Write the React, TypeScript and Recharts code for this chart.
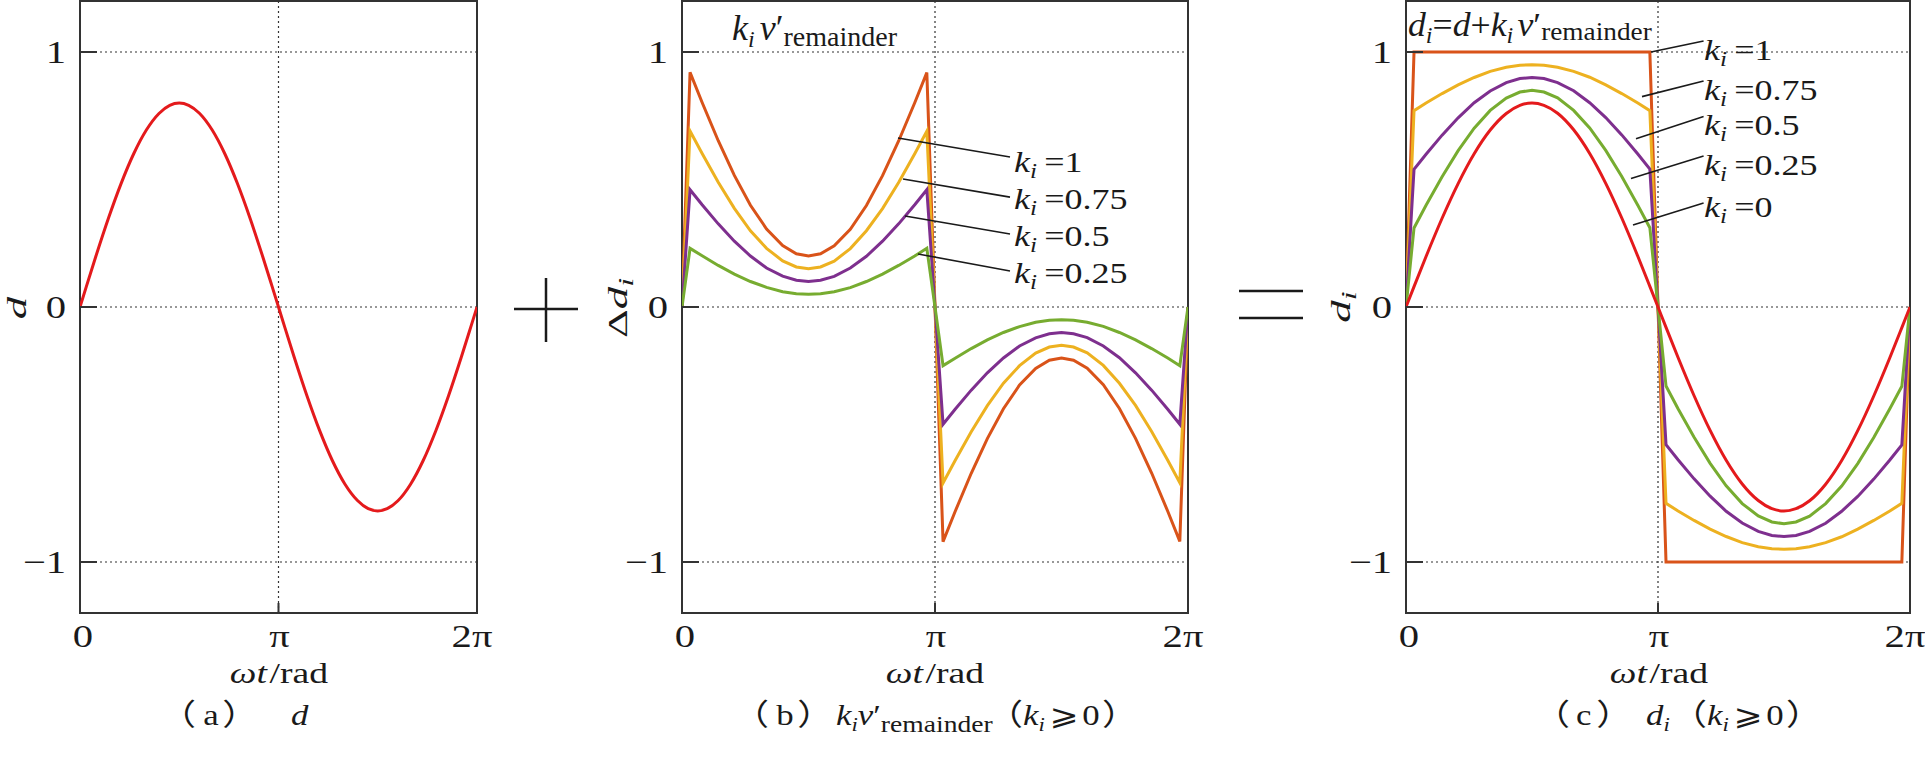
import React from 'react'
import { LineChart, Line, XAxis, YAxis, CartesianGrid, ReferenceLine, ReferenceArea } from 'recharts'

// ωt sample points (rad), finer near 0, π and 2π where the curves jump
const wt = [
  0, 0.1, 0.25, 0.45, 0.65, 0.85, 1.05, 1.25, 1.42, 1.5708, 1.72, 1.89, 2.09, 2.29, 2.49, 2.69, 2.89, 3.04, 3.1416,
  3.2416, 3.3916, 3.5916, 3.7916, 3.9916, 4.1916, 4.3916, 4.5616, 4.7124, 4.8616, 5.0316, 5.2316, 5.4316, 5.6316, 5.8316, 6.0316, 6.1816, 6.2832,
]

// (a) d
const dVals = [
  0, 0.08, 0.198, 0.348, 0.484, 0.601, 0.694, 0.759, 0.791, 0.8, 0.791, 0.76, 0.695, 0.602, 0.485, 0.349, 0.199, 0.081, 0,
  -0.08, -0.198, -0.348, -0.484, -0.601, -0.694, -0.759, -0.791, -0.8, -0.791, -0.76, -0.695, -0.602, -0.485, -0.349, -0.199, -0.081, 0,
]

// (b) Δd_i = k_i v'_remainder
const dk100 = [
  0, 0.92, 0.802, 0.652, 0.516, 0.399, 0.306, 0.241, 0.209, 0.2, 0.209, 0.24, 0.305, 0.398, 0.515, 0.651, 0.801, 0.919, 0,
  -0.92, -0.802, -0.652, -0.516, -0.399, -0.306, -0.241, -0.209, -0.2, -0.209, -0.24, -0.305, -0.398, -0.515, -0.651, -0.801, -0.919, 0,
]
const dk075 = [
  0, 0.69, 0.602, 0.489, 0.387, 0.299, 0.23, 0.181, 0.157, 0.15, 0.157, 0.18, 0.229, 0.299, 0.386, 0.488, 0.601, 0.689, 0,
  -0.69, -0.602, -0.489, -0.387, -0.299, -0.23, -0.181, -0.157, -0.15, -0.157, -0.18, -0.229, -0.299, -0.386, -0.488, -0.601, -0.689, 0,
]
const dk050 = [
  0, 0.46, 0.401, 0.326, 0.258, 0.2, 0.153, 0.121, 0.105, 0.1, 0.105, 0.12, 0.153, 0.199, 0.258, 0.326, 0.401, 0.46, 0,
  -0.46, -0.401, -0.326, -0.258, -0.2, -0.153, -0.121, -0.105, -0.1, -0.105, -0.12, -0.153, -0.199, -0.258, -0.326, -0.401, -0.46, 0,
]
const dk025 = [
  0, 0.23, 0.201, 0.163, 0.129, 0.1, 0.077, 0.06, 0.052, 0.05, 0.052, 0.06, 0.076, 0.1, 0.129, 0.163, 0.2, 0.23, 0,
  -0.23, -0.201, -0.163, -0.129, -0.1, -0.077, -0.06, -0.052, -0.05, -0.052, -0.06, -0.076, -0.1, -0.129, -0.163, -0.2, -0.23, 0,
]

// (c) d_i = d + k_i v'_remainder
const di100 = [
  0, 1, 1, 1, 1, 1, 1, 1, 1, 1, 1, 1, 1, 1, 1, 1, 1, 1, 0,
  -1, -1, -1, -1, -1, -1, -1, -1, -1, -1, -1, -1, -1, -1, -1, -1, -1, 0,
]
const di075 = [
  0, 0.77, 0.8, 0.837, 0.871, 0.9, 0.924, 0.94, 0.948, 0.95, 0.948, 0.94, 0.924, 0.901, 0.871, 0.837, 0.8, 0.77, 0,
  -0.77, -0.8, -0.837, -0.871, -0.9, -0.924, -0.94, -0.948, -0.95, -0.948, -0.94, -0.924, -0.901, -0.871, -0.837, -0.8, -0.77, 0,
]
const di050 = [
  0, 0.54, 0.599, 0.674, 0.742, 0.801, 0.847, 0.88, 0.896, 0.9, 0.896, 0.88, 0.848, 0.801, 0.743, 0.675, 0.6, 0.541, 0,
  -0.54, -0.599, -0.674, -0.742, -0.801, -0.847, -0.88, -0.896, -0.9, -0.896, -0.88, -0.848, -0.801, -0.743, -0.675, -0.6, -0.541, 0,
]
const di025 = [
  0, 0.31, 0.399, 0.511, 0.613, 0.701, 0.771, 0.819, 0.843, 0.85, 0.843, 0.82, 0.771, 0.702, 0.614, 0.512, 0.399, 0.311, 0,
  -0.31, -0.399, -0.511, -0.613, -0.701, -0.771, -0.819, -0.843, -0.85, -0.843, -0.82, -0.771, -0.702, -0.614, -0.512, -0.399, -0.311, 0,
]

const TWO_PI = 6.2832
const xTicks = [0, 3.1416, 6.2832]
const xTickLabels = ['0', 'π', '2π']
const yTicks = [-1, 0, 1]
const yTickLabels = ['−1', '0', '1']

// leader lines [x1, y1, x2, y2] in data units
const leadersB = [
  [2.682, 0.663, 4.073, 0.588],
  [2.744, 0.502, 4.073, 0.431],
  [2.769, 0.357, 4.073, 0.286],
  [2.93, 0.208, 4.073, 0.141],
]
const leadersC = [
  [3.054, 1.0, 3.71, 1.043],
  [2.942, 0.825, 3.71, 0.886],
  [2.867, 0.66, 3.71, 0.747],
  [2.805, 0.504, 3.71, 0.592],
  [2.83, 0.322, 3.71, 0.408],
]
const labelsB = ['1', '0.75', '0.5', '0.25']
const labelsC = ['1', '0.75', '0.5', '0.25', '0']

const RED = '#e41a1c'
const ORANGE = '#d95319'
const YELLOW = '#edb120'
const PURPLE = '#7e2f8e'
const GREEN = '#77ac30'
const INK = '#1a1a1a'
const SERIF = '"Liberation Serif", "Times New Roman", serif'
const CJK = '"Noto Sans CJK SC", "Liberation Serif", serif'
const MATH = '"DejaVu Sans", "Noto Sans CJK SC", sans-serif'
const SX = 1.27

const rowsA = wt.map((x, i) => ({ x, d: dVals[i] }))
const rowsB = wt.map((x, i) => ({ x, k100: dk100[i], k075: dk075[i], k050: dk050[i], k025: dk025[i] }))
const rowsC = wt.map((x, i) => ({ x, k100: di100[i], k075: di075[i], k050: di050[i], k025: di025[i], k000: dVals[i] }))

const Y_MARGIN = 14
const X_MARGIN = 34

function YTick(props: any) {
  const { x, y, index } = props
  const ax = x + Y_MARGIN
  return (
    <g>
      <line x1={ax} x2={ax + 17} y1={y} y2={y} stroke="#333" strokeWidth={2} />
      <text transform={`translate(${x},${y + 11}) scale(${SX},1)`} textAnchor="end" fontFamily={SERIF} fontSize={32} fill={INK}>
        {yTickLabels[index]}
      </text>
    </g>
  )
}

function XTick(props: any) {
  const { x, y, index } = props
  const ay = y - X_MARGIN
  const shift = index === 0 ? 3 : index === 2 ? -5 : 1
  return (
    <g>
      <line x1={x} x2={x} y1={ay} y2={ay - 10} stroke="#333" strokeWidth={2} />
      <text transform={`translate(${x + shift},${y}) scale(${SX},1)`} textAnchor="middle" fontFamily={SERIF} fontSize={32} fill={INK}>
        {xTickLabels[index]}
      </text>
    </g>
  )
}

type Series = { key: string; color: string; curve?: 'linear' | 'monotone' }

function Panel(props: { left: number; width: number; margin: any; data: any[]; series: Series[]; leaders: number[][] }) {
  const { left, width, margin, data, series, leaders } = props
  return (
    <div style={{ position: 'absolute', left, top: 0 }}>
      <LineChart width={width} height={757} data={data} margin={margin}>
        <CartesianGrid stroke="#333" strokeDasharray="2 3" strokeWidth={1.2} />
        <XAxis
          type="number"
          dataKey="x"
          domain={[0, TWO_PI]}
          ticks={xTicks}
          interval={0}
          tickSize={0}
          tickLine={false}
          axisLine={false}
          tickMargin={X_MARGIN}
          tick={(p: any) => <XTick {...p} />}
          allowDataOverflow
        />
        <YAxis
          type="number"
          domain={[-1.2, 1.2]}
          ticks={yTicks}
          interval={0}
          tickSize={0}
          tickLine={false}
          axisLine={false}
          tickMargin={Y_MARGIN}
          tick={(p: any) => <YTick {...p} />}
          allowDataOverflow
        />
        <ReferenceArea x1={0} x2={TWO_PI} y1={-1.2} y2={1.2} fill="none" fillOpacity={0} stroke="#333" strokeWidth={2} ifOverflow="visible" />
        {series.map((s) => (
          <Line
            key={s.key}
            type={s.curve ?? 'linear'}
            dataKey={s.key}
            stroke={s.color}
            strokeWidth={3}
            dot={false}
            activeDot={false}
            isAnimationActive={false}
          />
        ))}
        {leaders.map((l, i) => (
          <ReferenceLine
            key={i}
            segment={[{ x: l[0], y: l[1] }, { x: l[2], y: l[3] }]}
            stroke={INK}
            strokeWidth={1.6}
            ifOverflow="visible"
          />
        ))}
      </LineChart>
    </div>
  )
}

function KLabel({ x, y, value }: { x: number; y: number; value: string }) {
  return (
    <text transform={`translate(${x},${y}) scale(1.2,1)`} fontFamily={SERIF} fontSize={30} fill={INK}>
      <tspan fontStyle="italic">k</tspan>
      <tspan fontStyle="italic" fontSize={21} dy={6}>i</tspan>
      <tspan dy={-6} dx={6}>{'=' + value}</tspan>
    </text>
  )
}

function AxisTitle({ cx }: { cx: number }) {
  return (
    <text transform={`translate(${cx},683) scale(1.3,1)`} textAnchor="middle" fontFamily={SERIF} fontSize={29} fill={INK}>
      <tspan fontStyle="italic">ωt</tspan>
      <tspan dx={2}>/rad</tspan>
    </text>
  )
}

function YTitle({ cx, cy, children }: { cx: number; cy: number; children: any }) {
  return (
    <text transform={`translate(${cx + 10},${cy}) rotate(-90) scale(1.6,1)`} textAnchor="middle" fontFamily={SERIF} fontSize={28} fill={INK}>
      {children}
    </text>
  )
}

const CS = 1.2 // caption horizontal stretch
const cx = (v: number) => v / CS
const CAP_Y = 725

export default function App() {
  return (
    <div style={{ position: 'absolute', left: 0, top: 0, width: 1925, height: 757, background: '#fff' }}>
      <Panel
        left={0}
        width={560}
        margin={{ top: 1, right: 83, left: 20, bottom: 114 }}
        data={rowsA}
        series={[{ key: 'd', color: RED, curve: 'monotone' }]}
        leaders={[]}
      />
      <Panel
        left={580}
        width={640}
        margin={{ top: 1, right: 32, left: 42, bottom: 114 }}
        data={rowsB}
        series={[
          { key: 'k100', color: ORANGE },
          { key: 'k075', color: YELLOW },
          { key: 'k050', color: PURPLE },
          { key: 'k025', color: GREEN },
        ]}
        leaders={leadersB}
      />
      <Panel
        left={1310}
        width={615}
        margin={{ top: 1, right: 15, left: 36, bottom: 114 }}
        data={rowsC}
        series={[
          { key: 'k100', color: ORANGE },
          { key: 'k075', color: YELLOW },
          { key: 'k050', color: PURPLE },
          { key: 'k025', color: GREEN },
          { key: 'k000', color: RED, curve: 'monotone' },
        ]}
        leaders={leadersC}
      />

      <svg width={1925} height={757} style={{ position: 'absolute', left: 0, top: 0, pointerEvents: 'none' }}>
        {/* axis titles */}
        <YTitle cx={16} cy={308}>
          <tspan fontStyle="italic">d</tspan>
        </YTitle>
        <YTitle cx={617} cy={308}>
          <tspan>Δ</tspan>
          <tspan fontStyle="italic">d</tspan>
          <tspan fontStyle="italic" fontSize={20} dy={6}>i</tspan>
        </YTitle>
        <YTitle cx={1340} cy={307}>
          <tspan fontStyle="italic">d</tspan>
          <tspan fontStyle="italic" fontSize={20} dy={6}>i</tspan>
        </YTitle>
        <AxisTitle cx={279} />
        <AxisTitle cx={935} />
        <AxisTitle cx={1659} />

        {/* panel titles */}
        <text transform="translate(732,40)" fontFamily={SERIF} fontSize={36} fill={INK}>
          <tspan fontStyle="italic">k</tspan>
          <tspan fontStyle="italic" fontSize={24} dy={7}>i</tspan>
          <tspan fontStyle="italic" dy={-7} dx={5}>v</tspan>
          <tspan>′</tspan>
          <tspan fontSize={28} dy={6}>remainder</tspan>
        </text>
        <text transform="translate(1408,36) scale(1.05,1)" fontFamily={SERIF} fontSize={34} fill={INK}>
          <tspan fontStyle="italic">d</tspan>
          <tspan fontStyle="italic" fontSize={23} dy={7}>i</tspan>
          <tspan dy={-7}>=</tspan>
          <tspan fontStyle="italic">d</tspan>
          <tspan>+</tspan>
          <tspan fontStyle="italic">k</tspan>
          <tspan fontStyle="italic" fontSize={23} dy={7}>i</tspan>
          <tspan fontStyle="italic" dy={-7} dx={4}>v</tspan>
          <tspan>′</tspan>
          <tspan fontSize={26} dy={4}>remainder</tspan>
        </text>

        {/* curve labels */}
        {labelsB.map((v, i) => (
          <KLabel key={'b' + i} x={1014} y={172 + i * 37} value={v} />
        ))}
        {labelsC.map((v, i) => (
          <KLabel key={'c' + i} x={1704} y={[60, 100, 135, 175, 217][i]} value={v} />
        ))}

        {/* plus and equals signs */}
        <line x1={514} x2={578} y1={309} y2={309} stroke={INK} strokeWidth={2.5} />
        <line x1={546} x2={546} y1={278} y2={342} stroke={INK} strokeWidth={2.5} />
        <line x1={1239} x2={1303} y1={291} y2={291} stroke={INK} strokeWidth={2.5} />
        <line x1={1239} x2={1303} y1={318} y2={318} stroke={INK} strokeWidth={2.5} />

        {/* captions */}
        <text transform={`translate(0,${CAP_Y}) scale(${CS},1)`} fontFamily={SERIF} fontSize={29} fill={INK}>
          <tspan x={cx(160)} fontFamily={CJK} fontSize={30}>（</tspan>
          <tspan dx={6}>a</tspan>
          <tspan dx={3} fontFamily={CJK} fontSize={30}>）</tspan>
          <tspan x={cx(291)} fontStyle="italic">d</tspan>
        </text>
        <text transform={`translate(0,${CAP_Y}) scale(${CS},1)`} fontFamily={SERIF} fontSize={29} fill={INK}>
          <tspan x={cx(733)} fontFamily={CJK} fontSize={30}>（</tspan>
          <tspan dx={6}>b</tspan>
          <tspan dx={3} fontFamily={CJK} fontSize={30}>）</tspan>
          <tspan x={cx(836)} fontStyle="italic">k</tspan>
          <tspan fontStyle="italic" fontSize={19} dy={6}>i</tspan>
          <tspan fontStyle="italic" dy={-6}>v</tspan>
          <tspan>′</tspan>
          <tspan fontSize={23} dy={7}>remainder</tspan>
          <tspan x={cx(987)} dy={-7} fontFamily={CJK} fontSize={30}>（</tspan>
          <tspan fontStyle="italic">k</tspan>
          <tspan fontStyle="italic" fontSize={19} dy={6}>i</tspan>
          <tspan dx={4} dy={-6} fontFamily={MATH} fontSize={29}>⩾</tspan>
          <tspan dx={3}>0</tspan>
          <tspan dx={2} fontFamily={CJK} fontSize={30}>）</tspan>
        </text>
        <text transform={`translate(0,${CAP_Y}) scale(${CS},1)`} fontFamily={SERIF} fontSize={29} fill={INK}>
          <tspan x={cx(1534)} fontFamily={CJK} fontSize={30}>（</tspan>
          <tspan dx={5}>c</tspan>
          <tspan dx={4} fontFamily={CJK} fontSize={30}>）</tspan>
          <tspan x={cx(1646)} fontStyle="italic">d</tspan>
          <tspan fontStyle="italic" fontSize={19} dy={6}>i</tspan>
          <tspan x={cx(1671)} dy={-6} fontFamily={CJK} fontSize={30}>（</tspan>
          <tspan fontStyle="italic">k</tspan>
          <tspan fontStyle="italic" fontSize={19} dy={6}>i</tspan>
          <tspan dx={4} dy={-6} fontFamily={MATH} fontSize={29}>⩾</tspan>
          <tspan dx={3}>0</tspan>
          <tspan dx={2} fontFamily={CJK} fontSize={30}>）</tspan>
        </text>
      </svg>
    </div>
  )
}
